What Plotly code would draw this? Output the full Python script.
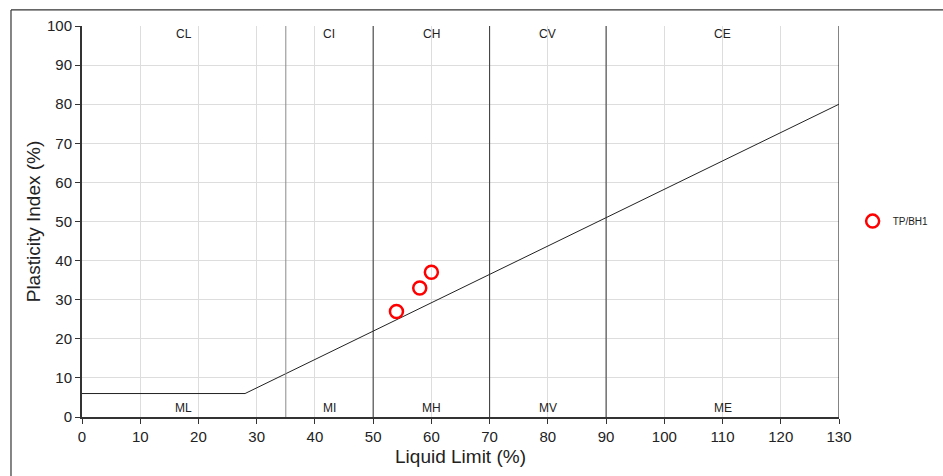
import plotly.graph_objects as go

# Data
sample_ll = [54, 58, 60]
sample_pi = [27, 33, 37]
sample_name = "TP/BH1"

aline_ll = [0, 28, 130]
aline_pi = [6, 6, 80]

boundaries = [35, 50, 70, 90]
boundary_colors = ["#8a8a8a", "#333333", "#333333", "#333333"]

zone_centres = [17.5, 42.5, 60, 80, 110]
upper_labels = ["CL", "CI", "CH", "CV", "CE"]
lower_labels = ["ML", "MI", "MH", "MV", "ME"]

x_ticks = list(range(0, 131, 10))
y_ticks = list(range(0, 101, 10))

FONT = "Liberation Sans, Arial, sans-serif"

fig = go.Figure()

fig.add_trace(go.Scatter(
    x=aline_ll, y=aline_pi, mode="lines",
    line=dict(color="#222222", width=1), showlegend=False, hoverinfo="skip"))

fig.add_trace(go.Scatter(
    x=sample_ll, y=sample_pi, mode="markers", name=sample_name,
    marker=dict(symbol="circle-open", size=13, color="#ff0000",
                line=dict(color="#ff0000", width=2.5))))

shapes = []
for b, c in zip(boundaries, boundary_colors):
    shapes.append(dict(type="line", xref="x", yref="y", x0=b, x1=b, y0=0, y1=100,
                       line=dict(color=c, width=1), layer="above"))
# right edge line at 130
shapes.append(dict(type="line", xref="x", yref="y", x0=130, x1=130, y0=0, y1=100,
                   line=dict(color="#333333", width=1.2), layer="above"))
# outer frame (left and top edges visible)
shapes.append(dict(type="line", xref="paper", yref="paper", x0=-0.0938, x1=-0.0938,
                   y0=1.041, y1=-0.2, line=dict(color="#333333", width=1.2)))
shapes.append(dict(type="line", xref="paper", yref="paper", x0=-0.0938, x1=1.2,
                   y0=1.041, y1=1.041, line=dict(color="#333333", width=1.2)))

annotations = []
for xc, t in zip(zone_centres, upper_labels):
    annotations.append(dict(x=xc, y=98, xref="x", yref="y", text=t, showarrow=False,
                            font=dict(size=12, color="#222222", family=FONT)))
for xc, t in zip(zone_centres, lower_labels):
    annotations.append(dict(x=xc, y=2.4, xref="x", yref="y", text=t, showarrow=False,
                            font=dict(size=12, color="#222222", family=FONT)))

fig.update_layout(
    width=943, height=476,
    margin=dict(l=82, r=104, t=26, b=59, autoexpand=False),
    paper_bgcolor="white", plot_bgcolor="white",
    font=dict(family=FONT, color="#222222"),
    shapes=shapes, annotations=annotations,
    legend=dict(x=1.018, y=0.501, xanchor="left", yanchor="middle",
                font=dict(size=10, family=FONT, color="#222222"),
                bgcolor="rgba(0,0,0,0)", itemwidth=30),
    showlegend=True,
)

fig.update_xaxes(
    range=[0, 130], tickvals=x_ticks, ticks="outside", ticklen=5, tickwidth=1,
    tickcolor="#333333", showline=True, linecolor="#333333", linewidth=2,
    showgrid=True, gridcolor="#dddddd", gridwidth=1, zeroline=False,
    tickfont=dict(size=15, family=FONT, color="#222222"),
    title=dict(text="Liquid Limit (%)", font=dict(size=19, family=FONT, color="#222222"),
               standoff=6),
)
fig.update_yaxes(
    range=[0, 100], tickvals=y_ticks, ticks="outside", ticklen=5, tickwidth=1,
    tickcolor="#333333", showline=True, linecolor="#333333", linewidth=2,
    showgrid=True, gridcolor="#dddddd", gridwidth=1, zeroline=False,
    tickfont=dict(size=15, family=FONT, color="#222222"),
    title=dict(text="Plasticity Index (%)", font=dict(size=19, family=FONT, color="#222222"),
               standoff=1),
)

fig.write_html("out.html")
